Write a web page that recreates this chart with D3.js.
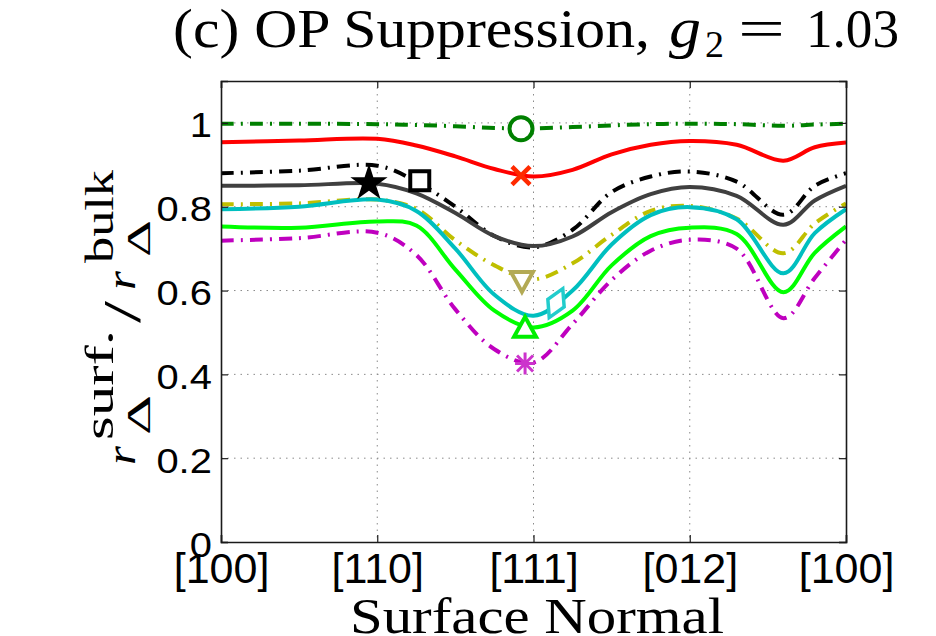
<!DOCTYPE html>
<html>
<head>
<meta charset="utf-8">
<script src="https://cdn.jsdelivr.net/npm/d3@7"></script>
<style>
  body { margin: 0; background: #fff; }
  svg { display: block; }
</style>
</head>
<body>
<div id="chart"></div>
<script>
// surface normal path, in tick units ([100] -> [110] -> [111] -> [012] -> [100])
const xTicks = [0, 1, 2, 3, 4];
const xTickLabels = ["[100]", "[110]", "[111]", "[012]", "[100]"];
const yTicks = [0, 0.2, 0.4, 0.6, 0.8, 1];
const yTickLabels = ["0", "0.2", "0.4", "0.6", "0.8", "1"];

const xs = [0, 0.5, 1, 1.25, 1.5, 1.75, 2, 2.25, 2.5, 2.75, 3, 3.3, 3.6, 3.8, 4];

const greenDash = [0.998, 0.998, 0.997, 0.995, 0.992, 0.988, 0.987, 0.990, 0.994, 0.997, 0.998, 0.997, 0.993, 0.996, 0.998];
const redSolid  = [0.954, 0.958, 0.962, 0.946, 0.920, 0.890, 0.872, 0.888, 0.925, 0.948, 0.957, 0.948, 0.910, 0.942, 0.953];
const blackDash = [0.880, 0.886, 0.898, 0.860, 0.800, 0.730, 0.703, 0.745, 0.835, 0.872, 0.884, 0.860, 0.781, 0.850, 0.880];
const graySolid = [0.850, 0.851, 0.855, 0.832, 0.785, 0.730, 0.706, 0.729, 0.787, 0.830, 0.847, 0.826, 0.757, 0.815, 0.850];
const yellowDash = [0.806, 0.808, 0.817, 0.795, 0.720, 0.660, 0.627, 0.665, 0.733, 0.790, 0.802, 0.772, 0.689, 0.760, 0.808];
const cyanSolid = [0.794, 0.800, 0.817, 0.790, 0.700, 0.590, 0.540, 0.600, 0.710, 0.780, 0.799, 0.770, 0.641, 0.737, 0.794];
const greenSolid = [0.753, 0.750, 0.765, 0.755, 0.650, 0.552, 0.512, 0.552, 0.660, 0.730, 0.750, 0.735, 0.596, 0.690, 0.753];
const magentaDash = [0.719, 0.725, 0.738, 0.685, 0.555, 0.460, 0.428, 0.520, 0.625, 0.695, 0.721, 0.700, 0.534, 0.630, 0.721];

const series = [
  {vals: greenDash,  color: "#008000", dash: "13,7,2,7"},
  {vals: redSolid,   color: "#ff0000", dash: null},
  {vals: blackDash,  color: "#000000", dash: "13,7,2,7"},
  {vals: graySolid,  color: "#404040", dash: null},
  {vals: yellowDash, color: "#bfbf00", dash: "13,7,2,7"},
  {vals: cyanSolid,  color: "#00bfbf", dash: null},
  {vals: greenSolid, color: "#00ff00", dash: null},
  {vals: magentaDash, color: "#bf00bf", dash: "13,7,2,7"}
];

const markers = [
  {x: 1.92, y: 0.986, shape: "circle",   color: "#008000"},
  {x: 1.92, y: 0.874, shape: "x",        color: "#ff2a00"},
  {x: 0.947, y: 0.856, shape: "star",    color: "#000000"},
  {x: 1.272, y: 0.862, shape: "square",  color: "#000000"},
  {x: 1.926, y: 0.623, shape: "triDown", color: "#b3aa55"},
  {x: 2.144, y: 0.570, shape: "diamond", color: "#22cccc"},
  {x: 1.946, y: 0.511, shape: "triUp",   color: "#00ee00"},
  {x: 1.946, y: 0.426, shape: "asterisk", color: "#cc33cc"}
];

const W = 936, H = 636;
const plot = {left: 221, right: 846, top: 81, bottom: 542};

const svg = d3.select("#chart").append("svg")
  .attr("width", W).attr("height", H)
  .style("font-family", "'Liberation Sans', Arial, sans-serif");

svg.append("rect").attr("width", W).attr("height", H).attr("fill", "#fff");

const x = d3.scaleLinear().domain([0, 4]).range([plot.left, plot.right]);
const y = d3.scaleLinear().domain([0, 1.1]).range([plot.bottom, plot.top]);

// dotted grid
const grid = svg.append("g").attr("stroke", "#8a8a8a").attr("stroke-width", 1)
  .attr("stroke-dasharray", "1.5,5");
grid.selectAll("line.gx").data(xTicks.slice(1, -1)).enter().append("line")
  .attr("x1", d => x(d)).attr("x2", d => x(d))
  .attr("y1", plot.top).attr("y2", plot.bottom);
grid.selectAll("line.gy").data(yTicks.slice(1)).enter().append("line")
  .attr("y1", d => y(d)).attr("y2", d => y(d))
  .attr("x1", plot.left).attr("x2", plot.right);

svg.append("clipPath").attr("id", "clip").append("rect")
  .attr("x", plot.left).attr("y", plot.top)
  .attr("width", plot.right - plot.left).attr("height", plot.bottom - plot.top);

const line = d3.line()
  .x((d, i) => x(xs[i]))
  .y(d => y(d))
  .curve(d3.curveCatmullRom.alpha(0.5));

const lines = svg.append("g").attr("clip-path", "url(#clip)");
lines.selectAll("path").data(series).enter().append("path")
  .attr("d", d => line(d.vals))
  .attr("fill", "none")
  .attr("stroke", d => d.color)
  .attr("stroke-width", 4)
  .attr("stroke-dasharray", d => d.dash);

// markers
const mk = svg.append("g");
markers.forEach(m => {
  const g = mk.append("g").attr("transform", `translate(${x(m.x)},${y(m.y)})`);
  const st = {stroke: m.color, "stroke-width": 4, fill: "#fff"};
  let el;
  if (m.shape === "circle") {
    el = g.append("circle").attr("r", 11.5);
  } else if (m.shape === "square") {
    el = g.append("rect").attr("x", -9.5).attr("y", -9.5).attr("width", 19).attr("height", 19);
  } else if (m.shape === "star") {
    el = g.append("path").attr("d", d3.symbol(d3.symbolStar, 300)());
    st.fill = "#000"; st["stroke-width"] = 2;
  } else if (m.shape === "triDown") {
    el = g.append("path").attr("d", "M-11,-9L11,-9L0,11Z");
  } else if (m.shape === "triUp") {
    el = g.append("path").attr("d", "M-11,9L11,9L0,-11Z");
  } else if (m.shape === "diamond") {
    el = g.append("path").attr("d", "M0,-16L9,0L0,16L-9,0Z").attr("transform", "rotate(25)");
    st["stroke-width"] = 3.5;
  } else if (m.shape === "x") {
    el = g.append("path").attr("d", "M-9,-9L9,9M-9,9L9,-9");
    st["stroke-width"] = 4.5; st.fill = "none";
  } else if (m.shape === "asterisk") {
    el = g.append("path").attr("d", "M0,-11L0,11M-10,0L10,0M-8,-8L8,8M-8,8L8,-8");
    st["stroke-width"] = 3; st.fill = "none";
  }
  Object.entries(st).forEach(([k, v]) => el.attr(k, v));
});

// axes: ticks pointing inward
const axisColor = "#1a1a1a";
const yAxis = svg.append("g").attr("transform", `translate(${plot.left},0)`)
  .call(d3.axisLeft(y).tickValues(yTicks).tickSize(-7).tickPadding(8)
    .tickFormat((d, i) => yTickLabels[i]));
const xAxis = svg.append("g").attr("transform", `translate(0,${plot.bottom})`)
  .call(d3.axisBottom(x).tickValues(xTicks).tickSize(-7).tickPadding(14)
    .tickFormat((d, i) => xTickLabels[i]));
const yRight = svg.append("g").attr("transform", `translate(${plot.right},0)`)
  .call(d3.axisRight(y).tickValues(yTicks).tickSize(-7).tickFormat(""));
const xTop = svg.append("g").attr("transform", `translate(0,${plot.top})`)
  .call(d3.axisTop(x).tickValues(xTicks).tickSize(-7).tickFormat(""));

[yAxis, xAxis, yRight, xTop].forEach(a => {
  a.select(".domain").attr("stroke", axisColor).attr("stroke-width", 1.6);
  a.selectAll(".tick line").attr("stroke", axisColor).attr("stroke-width", 1.2);
});
yAxis.selectAll(".tick text")
  .attr("fill", "#000").attr("font-size", 35).attr("dy", "0.40em")
  .attr("transform", "scale(1.14,1)");
xAxis.selectAll(".tick text")
  .attr("fill", "#000").attr("font-size", 43).attr("dy", "0.62em");

// title
const serif = "'Liberation Serif', 'Times New Roman', serif";
const title = svg.append("g").attr("font-family", serif).attr("fill", "#000");
title.append("text").attr("x", 173).attr("y", 47).attr("font-size", 54)
  .attr("textLength", 477).attr("lengthAdjust", "spacingAndGlyphs")
  .text("(c) OP Suppression,");
title.append("text").attr("x", 669).attr("y", 47).attr("font-size", 56)
  .attr("font-style", "italic").attr("textLength", 32).attr("lengthAdjust", "spacingAndGlyphs")
  .text("g");
title.append("text").attr("x", 705).attr("y", 57).attr("font-size", 38).text("2");
title.append("text").attr("x", 738).attr("y", 47).attr("font-size", 54)
  .attr("textLength", 47).attr("lengthAdjust", "spacingAndGlyphs").text("=");
title.append("text").attr("x", 806).attr("y", 47).attr("font-size", 54)
  .attr("textLength", 93).attr("lengthAdjust", "spacingAndGlyphs").text("1.03");

// x label
svg.append("text").attr("x", 350).attr("y", 633)
  .attr("font-family", serif).attr("font-size", 50)
  .attr("textLength", 374).attr("lengthAdjust", "spacingAndGlyphs")
  .text("Surface Normal");

// y label: r_Delta^surf. / r_Delta^bulk, rotated
const yl = svg.append("g").attr("transform", "translate(135,465) rotate(-90)")
  .attr("font-family", serif).attr("fill", "#000");
const piece = (u, v, size, txt, len, italic) => {
  const t = yl.append("text").attr("x", u).attr("y", v).attr("font-size", size).text(txt);
  if (len) t.attr("textLength", len).attr("lengthAdjust", "spacingAndGlyphs");
  if (italic) t.attr("font-style", "italic");
};
piece(0, 0, 42, "r", 19, true);
piece(30, 15, 33, "\u0394", 40);
piece(25, -22, 40, "surf.", 110);
piece(142, 5, 52, "/", 22);
piece(175, 0, 42, "r", 19, true);
piece(208, 15, 33, "\u0394", 37);
piece(202, -22, 40, "bulk", 93);
</script>
</body>
</html>
